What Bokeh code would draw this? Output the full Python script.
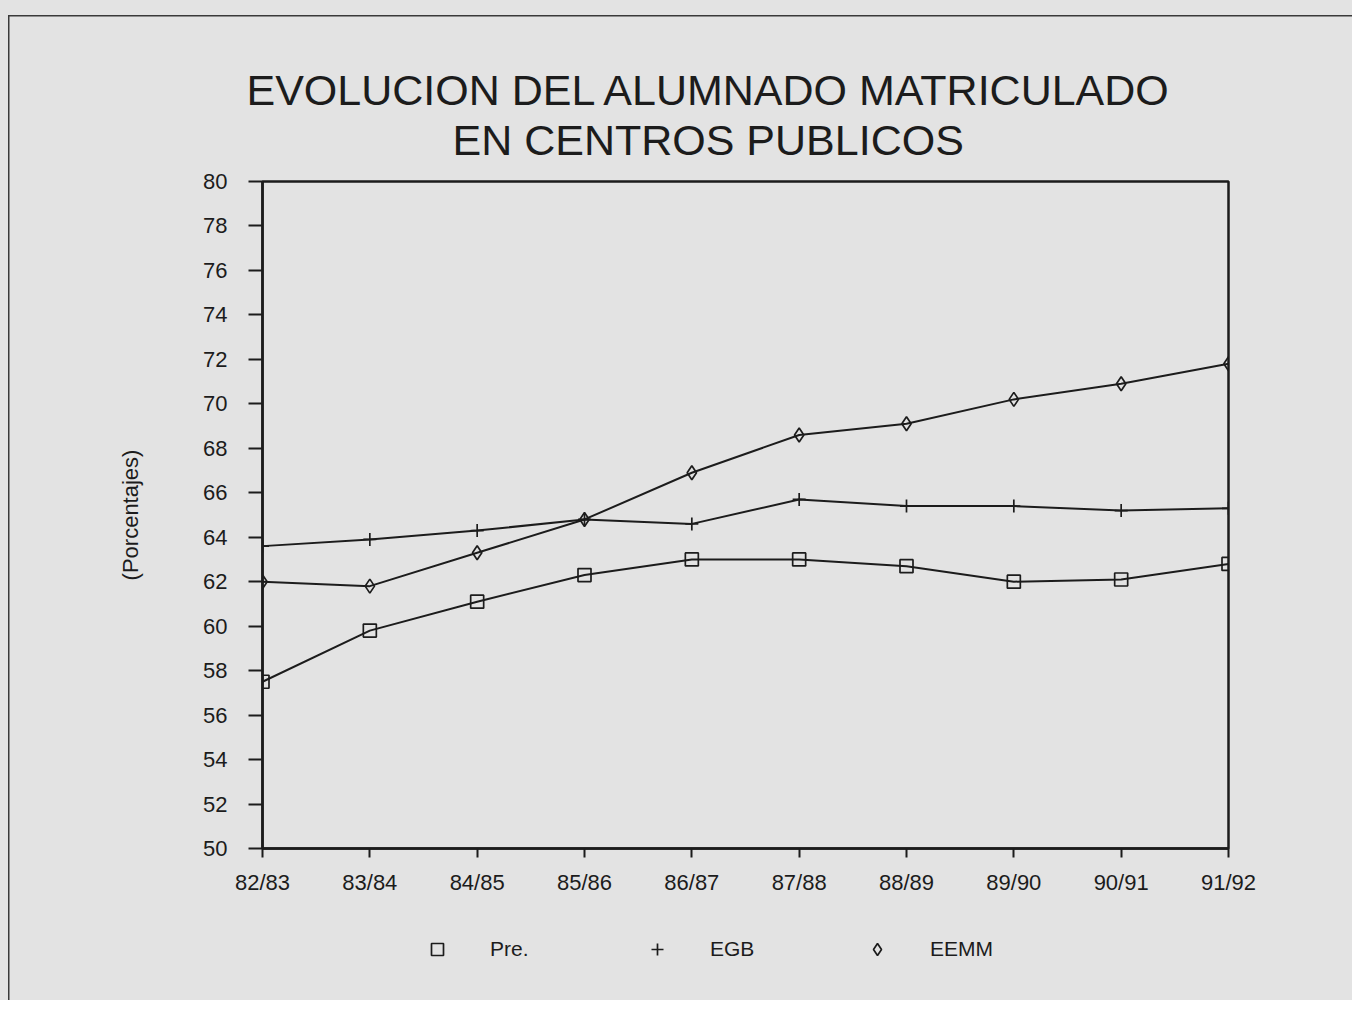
from bokeh.plotting import figure
from bokeh.layouts import column
from bokeh.models import Range1d, Title, Legend, LegendItem, FixedTicker
from bokeh.embed import file_html
from bokeh.resources import INLINE

# ---- data ----
years = ["82/83", "83/84", "84/85", "85/86", "86/87", "87/88", "88/89", "89/90", "90/91", "91/92"]
pre = [57.5, 59.8, 61.1, 62.3, 63.0, 63.0, 62.7, 62.0, 62.1, 62.8]
egb = [63.6, 63.9, 64.3, 64.8, 64.6, 65.7, 65.4, 65.4, 65.2, 65.3]
eemm = [62.0, 61.8, 63.3, 64.8, 66.9, 68.6, 69.1, 70.2, 70.9, 71.8]
y_ticks = list(range(50, 81, 2))
title_lines = ["EVOLUCION DEL ALUMNADO MATRICULADO", "EN CENTROS PUBLICOS"]
y_label = "(Porcentajes)"
series_names = ["Pre.", "EGB", "EEMM"]

FONT = "Liberation Sans"
INK = "#1c1c1c"
PAPER = "#e3e3e3"
W = 1352

xs = list(range(len(years)))

p = figure(width=W, height=905, output_backend="svg", toolbar_location=None,
           x_range=Range1d(0, len(years) - 1), y_range=Range1d(50, 80),
           min_border_left=262, min_border_right=124, min_border_top=181, min_border_bottom=57)

p.background_fill_alpha = 0
p.border_fill_alpha = 0
p.outline_line_color = INK
p.outline_line_width = 2.5
p.grid.visible = False

# axes
p.xaxis.ticker = FixedTicker(ticks=xs)
p.xaxis.major_label_overrides = {i: y for i, y in enumerate(years)}
p.xaxis.minor_tick_line_color = None
p.xaxis.major_tick_out = 9
p.xaxis.major_tick_in = 0
p.xaxis.major_tick_line_width = 2
p.xaxis.major_tick_line_color = INK
p.xaxis.axis_line_width = 2.5
p.xaxis.axis_line_color = INK
p.xaxis.major_label_standoff = 12
p.xaxis.major_label_text_font = FONT
p.xaxis.major_label_text_font_size = "22px"
p.xaxis.major_label_text_color = INK

p.yaxis.ticker = FixedTicker(ticks=y_ticks)
p.yaxis.minor_tick_line_color = None
p.yaxis.major_tick_out = 14
p.yaxis.major_tick_in = 0
p.yaxis.major_tick_line_width = 2
p.yaxis.major_tick_line_color = INK
p.yaxis.axis_line_width = 2.5
p.yaxis.axis_line_color = INK
p.yaxis.major_label_standoff = 21
p.yaxis.major_label_text_font = FONT
p.yaxis.major_label_text_font_size = "22px"
p.yaxis.major_label_text_color = INK
p.yaxis.axis_label = y_label
p.yaxis.axis_label_text_font = FONT
p.yaxis.axis_label_text_font_style = "normal"
p.yaxis.axis_label_text_font_size = "22px"
p.yaxis.axis_label_text_color = INK
p.yaxis.axis_label_standoff = 57

# series
specs = [(pre, "square", 13), (egb, "cross", 13), (eemm, "diamond", 14)]
for (vals, marker, size) in specs:
    p.line(xs, vals, line_color=INK, line_width=2)
    p.scatter(xs, vals, marker=marker, size=size, fill_color=None,
              line_color=INK, line_width=1.7)

# title: a small blank spacer next to the frame, then the two lines
# (later additions stack further from the frame)
p.add_layout(Title(text=" ", text_font=FONT, text_font_size="10px", standoff=5), "above")
offsets = [-16, 190]
for t, off in reversed(list(zip(title_lines, offsets))):
    p.add_layout(Title(text=t, align="left", offset=off, text_font=FONT,
                       text_font_size="43px", text_font_style="normal",
                       text_color=INK, standoff=0), "above")

# legend strip below the chart (its frame is aligned with the chart's frame)
lg = figure(width=W, height=95, output_backend="svg", toolbar_location=None,
            x_range=Range1d(0, 1), y_range=Range1d(0, 1),
            min_border_left=0, min_border_right=0, min_border_top=0, min_border_bottom=0)
lg.axis.visible = False
lg.grid.visible = False
lg.outline_line_color = None
lg.background_fill_alpha = 0
lg.border_fill_alpha = 0

items = []
for (vals, marker, size), name in zip(specs, series_names):
    r = lg.scatter(xs, vals, marker=marker, size=size, fill_color=None,
                   line_color=INK, line_width=1.7, visible=False)
    items.append(LegendItem(label=name, renderers=[r]))

legend = Legend(items=items, orientation="horizontal", location=(160, 36),
                label_text_font=FONT, label_text_font_size="21px",
                label_text_color=INK, label_width=152, glyph_width=30, glyph_height=30,
                label_standoff=38, spacing=0, padding=10, margin=0,
                background_fill_alpha=0, border_line_color=None)
lg.add_layout(legend, "center")

layout = column(p, lg, spacing=0)
layout.styles = {
    "background": ("linear-gradient(#3a3a3a,#3a3a3a) 8px 15px / 1344px 1.5px no-repeat, "
                   "linear-gradient(#3a3a3a,#3a3a3a) 8px 15px / 1.5px 990px no-repeat, "
                   + PAPER),
}

open("out.html", "w").write(file_html(layout, INLINE))
